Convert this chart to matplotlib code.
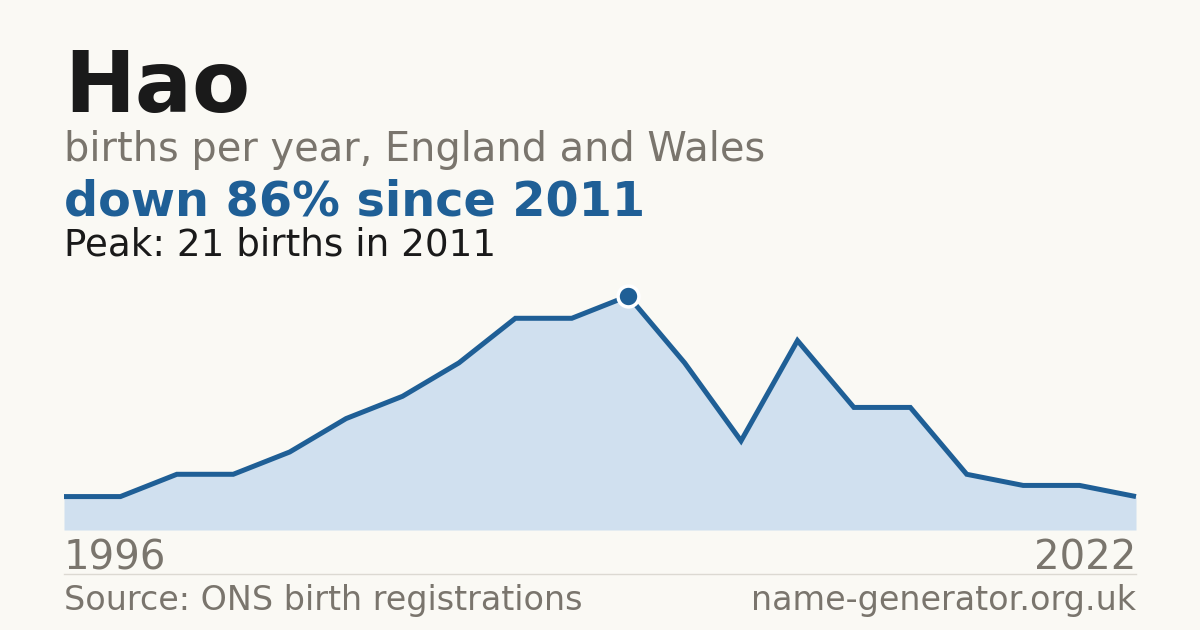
import matplotlib
matplotlib.use("Agg")
import matplotlib.pyplot as plt
import numpy as np

# colours
BG = "#faf9f4"
INK = "#1a1a1a"
GREY = "#7a756d"
BLUE = "#1f5f96"
FILL = "#d0e0ef"
RULE = "#dcd9d2"

# births per year (years with published counts only)
years = [1996, 1997, 1999, 2001, 2002, 2004, 2006, 2008, 2009, 2010,
         2011, 2012, 2013, 2014, 2016, 2017, 2018, 2020, 2021, 2022]
births = [3, 3, 5, 5, 7, 10, 12, 15, 19, 19,
          21, 15, 8, 17, 11, 11, 5, 4, 4, 3]

name = "Hao"
peak_i = int(np.argmax(births))
change = round((births[-1] - births[peak_i]) / births[peak_i] * 100)

W, H = 1200, 630
fig = plt.figure(figsize=(W / 100, H / 100), dpi=100, facecolor=BG)


def fy(px):
    # pixel row from top -> figure fraction
    return 1 - px / H


L, R = 64, 1136
ax = fig.add_axes([L / W, fy(530), (R - L) / W, (530 - 296) / H])
ax.set_facecolor(BG)
x = np.arange(len(births))
ax.fill_between(x, 0, births, color=FILL, linewidth=0)
ax.plot(x, births, color=BLUE, lw=3.6, solid_joinstyle="miter",
        solid_capstyle="butt", clip_on=False)
ax.plot(x[peak_i], births[peak_i], "o", ms=15, color=BLUE, mec="white", mew=2.5,
        clip_on=False, zorder=5)
ax.set_xlim(0, len(births) - 1)
ax.set_ylim(0, births[peak_i])
ax.axis("off")

# header
fig.text(L / W, fy(112), name, fontsize=61, fontweight="bold", color=INK, va="baseline")
fig.text(L / W, fy(161), "births per year, England and Wales", fontsize=28.7,
         color=GREY, va="baseline")
fig.text(L / W, fy(216), f"{'down' if change < 0 else 'up'} {abs(change)}% since {years[peak_i]}",
         fontsize=34.4, fontweight="bold", color=BLUE, va="baseline")
fig.text(L / W, fy(255), f"Peak: {births[peak_i]} births in {years[peak_i]}",
         fontsize=26.8, color=INK, va="baseline")

# year ends
fig.text(L / W, fy(569), str(years[0]), fontsize=28.9, color=GREY, va="baseline")
fig.text(R / W, fy(569), str(years[-1]), fontsize=28.9, color=GREY, va="baseline", ha="right")

fig.add_artist(plt.Line2D([L / W, R / W], [fy(574), fy(574)], color=RULE, lw=1))

# footer
fig.text(L / W, fy(610), "Source: ONS birth registrations", fontsize=24, color=GREY, va="baseline")
fig.text(R / W, fy(610), "name-generator.org.uk", fontsize=24, color=GREY,
         va="baseline", ha="right")

fig.savefig("out.png", dpi=100, facecolor=BG)
